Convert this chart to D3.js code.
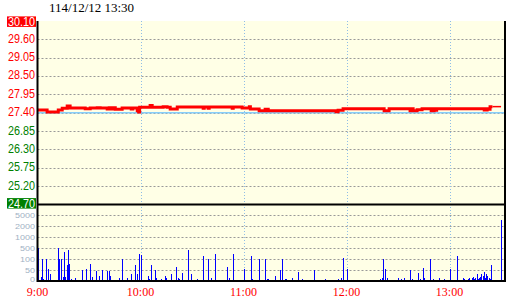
<!DOCTYPE html>
<html>
<head>
<meta charset="utf-8">
<script src="https://cdn.jsdelivr.net/npm/d3@7"></script>
<style>
  body { margin: 0; background: #fff; }
  svg { display: block; }
</style>
</head>
<body>
<div id="chart"></div>
<script>
const title = '114/12/12 13:30';
const refPrice = 27.40;
const priceTicks = ['30.10', '29.60', '29.05', '28.50', '27.95', '27.40', '26.85', '26.30', '25.75', '25.20', '24.70'];
const volTicks = [0, 50, 100, 500, 1000, 2000, 5000];
const volSteps = [0, 50, 100, 500, 1000, 2000, 5000, 10000];
const timeTicks = [0, 60, 120, 180, 240];
const timeLabels = ['9:00', '10:00', '11:00', '12:00', '13:00'];
const closeCall = 265; // 13:25, no trades until the close

// price changes, minutes after 9:00
const priceTime = [0, 5.6, 12.1, 14.4, 17.3, 19.0, 27.8, 30.7, 34.8, 36.5, 40.6, 41.8, 42.9, 44.1, 45.3,
  49.3, 54.6, 55.5, 58.1, 58.9, 59.5, 65.6, 66.8, 73.2, 75.5, 77.3, 81.4, 96.5, 97.1, 99.4, 100.0,
  113.4, 114.0, 119.2, 123.4, 124.0, 129.1, 132.6, 133.2, 133.8, 134.4, 173.9, 175.1, 178.0, 201.9,
  204.8, 217.0, 217.6, 218.8, 221.1, 224.0, 229.3, 231.0, 231.9, 232.5, 260.2, 260.8, 261.3, 261.9,
  262.5, 263.6, 270];
const priceValue = [27.48, 27.42, 27.48, 27.53, 27.60, 27.54, 27.52, 27.54, 27.55, 27.54, 27.51, 27.55, 27.51, 27.55, 27.50,
  27.54, 27.51, 27.54, 27.46, 27.42, 27.56, 27.61, 27.56, 27.58, 27.56, 27.51, 27.57, 27.53, 27.57, 27.53, 27.57,
  27.53, 27.57, 27.54, 27.58, 27.51, 27.46, 27.50, 27.46, 27.50, 27.46, 27.43, 27.47, 27.52, 27.46,
  27.52, 27.46, 27.52, 27.46, 27.49, 27.52, 27.46, 27.52, 27.47, 27.52, 27.48, 27.52, 27.48, 27.52,
  27.50, 27.58, 27.58];

// traded volume, minutes after 9:00
const volTime = [0.4, 2.0, 2.6, 3.1, 4.9, 6.1, 7.4, 8.6, 9.7, 10.9, 12.2, 12.8, 13.4, 14.6, 15.7, 16.3, 16.9, 17.5,
  18.6, 19.8, 21.0, 22.1, 23.9, 25.0, 26.2, 26.8, 28.0, 29.1, 30.3, 31.5, 32.6, 33.8, 35.0, 36.1, 37.3, 38.4,
  40.2, 41.4, 41.9, 42.5, 44.3, 45.4, 47.2, 48.3, 49.5, 50.7, 52.4, 53.0, 54.2, 55.3, 56.5, 57.7, 59.4, 60.0,
  61.2, 64.1, 64.7, 66.4, 67.0, 68.2, 68.7, 69.3, 71.1, 72.2, 73.4, 74.0, 74.6, 75.1, 76.3, 77.5, 78.6, 80.4,
  81.6, 82.1, 82.5, 84.3, 85.5, 87.8, 89.5, 90.3, 91.3, 92.4, 93.0, 94.8, 96.5, 97.7, 98.3, 99.6, 101.2, 103.1,
  103.7, 105.8, 107.0, 108.2, 110.1, 111.3, 111.8, 113.6, 116.2, 117.5, 120.0, 121.7, 124.1, 125.2, 125.8, 126.8,
  129.3, 130.3, 131.5, 132.8, 133.4, 134.4, 136.1, 138.1, 139.0, 141.0, 142.7, 143.9, 144.5, 146.0, 148.5, 150.1,
  151.5, 153.8, 156.1, 157.1, 158.8, 160.8, 161.9, 164.1, 165.8, 167.2, 168.7, 169.9, 171.1, 172.2, 173.4, 174.9,
  176.5, 177.7, 178.2, 180.0, 182.1, 185.1, 186.2, 188.0, 189.7, 190.9, 192.1, 193.2, 195.0, 196.7, 197.7, 198.6,
  199.6, 200.8, 201.4, 202.5, 203.7, 206.6, 207.8, 208.9, 209.7, 212.0, 213.2, 214.4, 215.4, 217.1, 218.3, 219.4,
  221.4, 222.5, 224.3, 225.4, 227.2, 228.9, 230.1, 231.1, 232.2, 233.6, 235.2, 236.5, 238.5, 240.0, 242.3, 244.1,
  246.4, 248.1, 248.7, 249.9, 250.5, 251.6, 252.8, 253.4, 254.0, 254.6, 255.1, 255.7, 256.3, 256.9, 257.5, 258.1,
  258.6, 259.2, 259.8, 260.4, 261.0, 261.5, 262.1, 262.7, 263.3, 263.9, 264.4, 270.0];
const volValue = [500, 20, 120, 8, 120, 55, 30, 4, 4, 4, 500, 110, 100, 20, 350, 20, 75, 450,
  80, 10, 5, 12, 5, 5, 50, 5, 55, 5, 80, 20, 5, 45, 5, 25, 50, 5,
  45, 5, 45, 25, 4, 5, 15, 5, 105, 5, 12, 5, 30, 5, 75, 30, 300, 260,
  5, 25, 8, 75, 5, 50, 8, 15, 5, 10, 5, 25, 8, 15, 5, 30, 5, 65,
  15, 5, 10, 35, 5, 450, 30, 5, 5, 5, 8, 5, 230, 5, 5, 110, 12, 300,
  5, 5, 5, 5, 65, 15, 15, 300, 5, 5, 55, 5, 200, 8, 5, 5,
  110, 5, 5, 110, 10, 8, 5, 25, 5, 50, 105, 8, 8, 5, 12, 5,
  40, 8, 5, 5, 5, 50, 5, 5, 5, 8, 5, 5, 5, 5, 5, 8,
  15, 150, 120, 55, 5, 5, 5, 5, 5, 5, 5, 5, 5, 5, 5, 5,
  8, 15, 100, 55, 12, 5, 5, 5, 15, 8, 15, 5, 5, 50, 8, 5,
  35, 8, 60, 15, 5, 110, 8, 5, 5, 15, 5, 8, 5, 55, 5, 200,
  5, 12, 8, 5, 8, 12, 15, 20, 10, 15, 8, 30, 8, 15, 20, 15,
  30, 25, 40, 15, 30, 25, 25, 12, 8, 75, 8, 3800];

const plot = { left: 37.5, right: 505, top: 21, mid: 204.5, bottom: 281 };
const sans = "'Liberation Sans', Arial, sans-serif";
const serif = "'Liberation Serif', 'Times New Roman', serif";

const svg = d3.select('#chart').append('svg')
  .attr('width', 520)
  .attr('height', 300);

const x = d3.scaleLinear().domain([0, 272.3]).range([plot.left, plot.right]);
const yPrice = d3.scaleLinear().domain([24.70, 30.10]).range([plot.mid, plot.top]);
const yVol = d3.scaleLinear()
  .domain(volSteps)
  .range(volSteps.map((d, i) => plot.bottom - i * (plot.bottom - plot.mid) / (volSteps.length - 1)));

svg.append('rect')
  .attr('x', plot.left).attr('y', plot.top)
  .attr('width', plot.right - plot.left).attr('height', plot.bottom - plot.top)
  .attr('fill', '#ffffe6');

// price grid: ten equal steps, labelled with rounded prices
const priceGrid = priceTicks.map((label, i) => ({ label, pos: 30.10 - i * (30.10 - 24.70) / 10 }));

svg.append('g')
  .selectAll('line')
  .data(priceGrid.slice(1, -1))
  .enter()
  .append('line')
  .attr('x1', plot.left).attr('x2', plot.right)
  .attr('y1', d => Math.round(yPrice(d.pos)) + 0.5)
  .attr('y2', d => Math.round(yPrice(d.pos)) + 0.5)
  .attr('stroke', '#999')
  .attr('stroke-dasharray', '2,2');

svg.append('g')
  .selectAll('line')
  .data(volTicks.slice(1))
  .enter()
  .append('line')
  .attr('x1', plot.left).attr('x2', plot.right)
  .attr('y1', d => Math.round(yVol(d)) + 0.5)
  .attr('y2', d => Math.round(yVol(d)) + 0.5)
  .attr('stroke', '#999')
  .attr('stroke-dasharray', '2,2');

// hour lines
svg.append('g')
  .selectAll('line')
  .data(timeTicks.slice(1))
  .enter()
  .append('line')
  .attr('x1', d => Math.round(x(d)) + 0.5)
  .attr('x2', d => Math.round(x(d)) + 0.5)
  .attr('y1', plot.top).attr('y2', plot.bottom)
  .attr('stroke', '#8fbde6')
  .attr('stroke-dasharray', '1,2');

// reference price
svg.append('line')
  .attr('x1', plot.left).attr('x2', plot.right)
  .attr('y1', yPrice(refPrice)).attr('y2', yPrice(refPrice))
  .attr('stroke', '#87cefa')
  .attr('stroke-width', 1.5);

// volume bars
svg.append('g')
  .attr('shape-rendering', 'crispEdges')
  .selectAll('line')
  .data(volTime.map((t, i) => ({ t, v: volValue[i] })))
  .enter()
  .append('line')
  .attr('x1', d => Math.round(x(d.t)) + 0.5)
  .attr('x2', d => Math.round(x(d.t)) + 0.5)
  .attr('y1', plot.bottom)
  .attr('y2', d => Math.round(yVol(d.v)))
  .attr('stroke', '#0000ff')
  .attr('stroke-width', 1);

// price line, thinner once the close call begins
const prices = priceTime.map((t, i) => ({ t, p: priceValue[i] }));
const line = d3.line()
  .x(d => x(d.t))
  .y(d => yPrice(d.p))
  .curve(d3.curveStepAfter);

const traded = prices.filter(d => d.t < closeCall);
const lastPrice = traded[traded.length - 1].p;

svg.append('path')
  .datum(traded.concat([{ t: closeCall, p: lastPrice }]))
  .attr('d', line)
  .attr('fill', 'none')
  .attr('stroke', '#ff0000')
  .attr('stroke-width', 3);

svg.append('path')
  .datum([{ t: closeCall, p: lastPrice }, prices[prices.length - 1]])
  .attr('d', line)
  .attr('fill', 'none')
  .attr('stroke', '#ff0000')
  .attr('stroke-width', 1.5);

// frame
const frame = svg.append('g').attr('stroke', '#000').attr('stroke-width', 2);
frame.append('line').attr('x1', plot.left).attr('x2', plot.left).attr('y1', plot.top).attr('y2', plot.bottom + 1);
frame.append('line').attr('x1', plot.right).attr('x2', plot.right).attr('y1', plot.top).attr('y2', plot.bottom + 1);
frame.append('line').attr('x1', plot.left).attr('x2', plot.right).attr('y1', plot.mid).attr('y2', plot.mid);
frame.append('line').attr('x1', plot.left).attr('x2', plot.right + 1).attr('y1', plot.bottom).attr('y2', plot.bottom);

// price labels, limit prices boxed
const labelMid = d => Math.max(yPrice(d.pos) - 1.4, 21.4);
const edges = [priceGrid[0], priceGrid[priceGrid.length - 1]];
const isUp = d => +d.label >= refPrice;

svg.append('g')
  .selectAll('rect')
  .data(edges)
  .enter()
  .append('rect')
  .attr('x', 7)
  .attr('y', d => labelMid(d) - 5)
  .attr('width', 29)
  .attr('height', 10.5)
  .attr('fill', d => (isUp(d) ? '#ff0000' : '#008000'));

svg.append('g')
  .attr('font-family', sans)
  .attr('font-size', 13.4)
  .attr('text-anchor', 'end')
  .selectAll('text')
  .data(priceGrid)
  .enter()
  .append('text')
  .attr('x', 35)
  .attr('y', d => labelMid(d) + 4.8)
  .attr('textLength', 27)
  .attr('lengthAdjust', 'spacingAndGlyphs')
  .attr('fill', d => edges.includes(d) ? '#fff' : (isUp(d) ? '#ff0000' : '#008000'))
  .text(d => d.label);

// volume labels
svg.append('g')
  .attr('font-family', sans)
  .attr('font-size', 8)
  .attr('text-anchor', 'end')
  .selectAll('text')
  .data(volTicks)
  .enter()
  .append('text')
  .attr('x', 35)
  .attr('y', d => Math.min(yVol(d), 279) + 2.9)
  .attr('textLength', d => String(d).length * 5)
  .attr('lengthAdjust', 'spacingAndGlyphs')
  .attr('fill', '#9fb2c4')
  .text(d => d);

// time labels
svg.append('g')
  .attr('font-family', serif)
  .attr('font-size', 12)
  .attr('text-anchor', 'middle')
  .attr('fill', '#ff0000')
  .selectAll('text')
  .data(timeTicks)
  .enter()
  .append('text')
  .attr('x', d => x(d))
  .attr('y', 296)
  .text((d, i) => timeLabels[i]);

svg.append('text')
  .attr('x', 49)
  .attr('y', 12)
  .attr('font-family', serif)
  .attr('font-size', 13)
  .attr('fill', '#000')
  .text(title);
</script>
</body>
</html>
